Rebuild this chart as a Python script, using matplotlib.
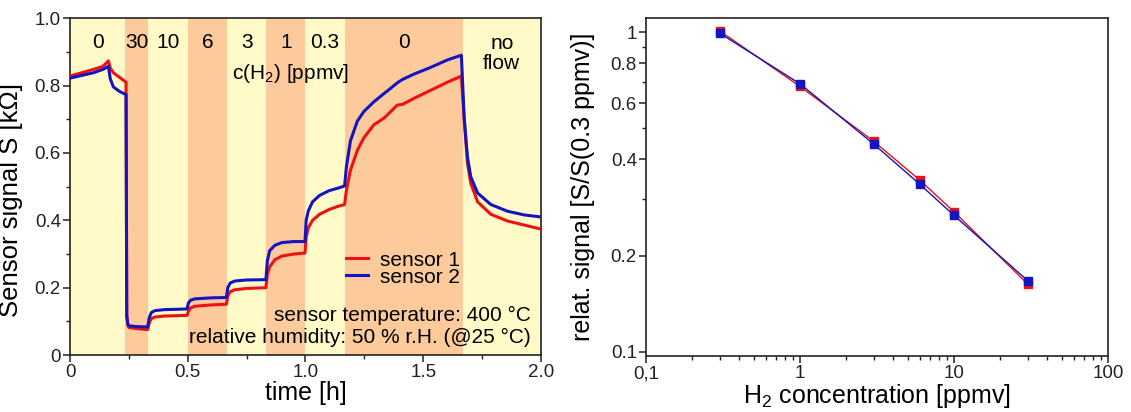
import matplotlib
matplotlib.use('Agg')
import matplotlib.pyplot as plt
from matplotlib.ticker import FixedLocator, NullFormatter, MultipleLocator

plt.rcParams['font.family'] = ['Liberation Sans', 'DejaVu Sans']
plt.rcParams['mathtext.fontset'] = 'custom'
plt.rcParams['mathtext.rm'] = 'Liberation Sans'

# left panel: sensor signal vs time
time_h = [0.000, 0.050, 0.100, 0.140, 0.163, 0.171, 0.184, 0.209, 0.238, 0.241,
          0.245, 0.250, 0.280, 0.310, 0.330, 0.336, 0.345, 0.360, 0.400, 0.450,
          0.497, 0.503, 0.512, 0.530, 0.600, 0.664, 0.670, 0.680, 0.700, 0.750,
          0.832, 0.838, 0.848, 0.870, 0.900, 0.950, 0.998, 1.003, 1.012, 1.030,
          1.060, 1.100, 1.140, 1.166, 1.174, 1.191, 1.220, 1.248, 1.291, 1.333,
          1.355, 1.390, 1.412, 1.461, 1.532, 1.603, 1.662, 1.674, 1.688, 1.702,
          1.731, 1.787, 1.858, 1.929, 2.000]
sensor1 = [0.828, 0.838, 0.848, 0.857, 0.873, 0.852, 0.838, 0.825, 0.810, 0.120,
           0.090, 0.082, 0.079, 0.077, 0.076, 0.095, 0.108, 0.113, 0.116, 0.117,
           0.118, 0.130, 0.140, 0.145, 0.149, 0.151, 0.175, 0.188, 0.194, 0.198,
           0.200, 0.240, 0.262, 0.283, 0.294, 0.300, 0.303, 0.350, 0.378, 0.400,
           0.418, 0.432, 0.442, 0.447, 0.490, 0.549, 0.607, 0.645, 0.684, 0.703,
           0.718, 0.742, 0.744, 0.762, 0.786, 0.810, 0.828, 0.700, 0.568, 0.510,
           0.455, 0.418, 0.398, 0.386, 0.374]
sensor2 = [0.822, 0.830, 0.838, 0.848, 0.857, 0.820, 0.796, 0.783, 0.773, 0.115,
           0.095, 0.087, 0.085, 0.084, 0.084, 0.110, 0.126, 0.132, 0.135, 0.136,
           0.137, 0.155, 0.163, 0.167, 0.170, 0.171, 0.200, 0.214, 0.220, 0.223,
           0.224, 0.280, 0.310, 0.326, 0.334, 0.337, 0.337, 0.400, 0.428, 0.455,
           0.474, 0.488, 0.496, 0.502, 0.560, 0.636, 0.694, 0.723, 0.752, 0.776,
           0.788, 0.808, 0.818, 0.834, 0.854, 0.876, 0.890, 0.703, 0.587, 0.529,
           0.481, 0.447, 0.427, 0.416, 0.410]

band_edges = [0, 0.235, 0.333, 0.5, 0.667, 0.833, 1.0, 1.167, 1.667, 2.0]
band_labels = ['0', '30', '10', '6', '3', '1', '0.3', '0', 'no\nflow']

# right panel: relative signal vs concentration
conc = [0.3, 1, 3, 6, 10, 30]
rel1 = [1.01, 0.676, 0.456, 0.344, 0.274, 0.163]
rel2 = [0.993, 0.689, 0.447, 0.334, 0.267, 0.167]

RED = '#ee1111'
BLUE = '#1414c0'
YELLOW = '#fffac8'
ORANGE = '#fdca9c'

fig = plt.figure(figsize=(11.31, 4.12), dpi=100)
ax1 = fig.add_axes([0.0619, 0.1380, 0.4164, 0.818])
ax2 = fig.add_axes([0.5712, 0.1350, 0.4085, 0.821])

# background bands
for i in range(len(band_edges) - 1):
    col = ORANGE if i % 2 == 1 else YELLOW
    ax1.axvspan(band_edges[i], band_edges[i + 1], color=col, lw=0, zorder=0)
    mid = (band_edges[i] + band_edges[i + 1]) / 2
    if band_labels[i].startswith('no'):
        ax1.text(mid, 0.894, band_labels[i], ha='center', va='center',
                 fontsize=15, linespacing=1.05)
    else:
        ax1.text(mid, 0.928, band_labels[i], ha='center', va='center', fontsize=15)
ax1.text(0.937, 0.836, 'c(H$_\\mathregular{2}$) [ppmv]', ha='center', va='center', fontsize=15)

ax1.plot(time_h, sensor1, color=RED, lw=2.2, label='sensor 1', zorder=3)
ax1.plot(time_h, sensor2, color=BLUE, lw=2.2, label='sensor 2', zorder=4)

ax1.text(0.978, 0.118, 'sensor temperature: 400 °C', transform=ax1.transAxes,
         ha='right', va='center', fontsize=15)
ax1.text(0.978, 0.051, 'relative humidity: 50 % r.H. (@25 °C)', transform=ax1.transAxes,
         ha='right', va='center', fontsize=15)

ax1.legend(loc='upper left', bbox_to_anchor=(0.585, 0.31), frameon=False, fontsize=15,
           handlelength=1.1, handletextpad=0.55, labelspacing=-0.1, borderpad=0,
           borderaxespad=0)

ax1.set_xlim(0, 2.0)
ax1.set_ylim(0, 1.0)
ax1.xaxis.set_major_locator(FixedLocator([0, 0.5, 1.0, 1.5, 2.0]))
ax1.set_xticklabels(['0', '0.5', '1.0', '1.5', '2.0'])
ax1.xaxis.set_minor_locator(MultipleLocator(0.25))
ax1.yaxis.set_major_locator(FixedLocator([0, 0.2, 0.4, 0.6, 0.8, 1.0]))
ax1.set_yticklabels(['0', '0.2', '0.4', '0.6', '0.8', '1.0'])
ax1.yaxis.set_minor_locator(MultipleLocator(0.1))
ax1.set_xlabel('time [h]', fontsize=18, labelpad=0)
ax1.set_ylabel('Sensor signal S [kΩ]', fontsize=18.5)
ax1.yaxis.set_label_coords(-0.1, 0.46)

# right panel
ax2.plot(conc, rel1, color=RED, lw=1.0, marker='s', ms=6, mec=RED, zorder=3)
ax2.plot(conc, rel2, color=BLUE, lw=1.0, marker='s', ms=6, mec=BLUE, zorder=4)
ax2.set_xscale('log')
ax2.set_yscale('log')
ax2.set_xlim(0.1, 100)
ax2.set_ylim(0.0967, 1.106)
ax2.xaxis.set_major_locator(FixedLocator([0.1, 1, 10, 100]))
ax2.set_xticklabels(['0,1', '1', '10', '100'])
ax2.xaxis.set_minor_locator(FixedLocator([k * 10.0 ** e for e in (-1, 0, 1) for k in range(2, 10)]))
ax2.xaxis.set_minor_formatter(NullFormatter())
ax2.yaxis.set_major_locator(FixedLocator([0.1, 0.2, 0.4, 0.6, 0.8, 1.0]))
ax2.set_yticklabels(['0.1', '0.2', '0.4', '0.6', '0.8', '1'])
ax2.yaxis.set_minor_locator(FixedLocator([0.3, 0.5, 0.7, 0.9]))
ax2.yaxis.set_minor_formatter(NullFormatter())
ax2.set_xlabel('H$_\\mathregular{2}$ concentration [ppmv]', fontsize=18, labelpad=0)
ax2.set_ylabel('relat. signal [S/S(0.3 ppmv)]', fontsize=18)
ax2.yaxis.set_label_coords(-0.11, 0.5)

for ax in (ax1, ax2):
    for sp in ax.spines.values():
        sp.set_linewidth(1.2)
        sp.set_color('#222222')
    ax.tick_params(which='major', direction='out', length=5, width=1.1,
                   labelsize=13.5, colors='#222222', pad=1.5)
    ax.tick_params(which='minor', direction='out', length=3, width=1.0, colors='#222222')

fig.savefig('out.png', dpi=100)
